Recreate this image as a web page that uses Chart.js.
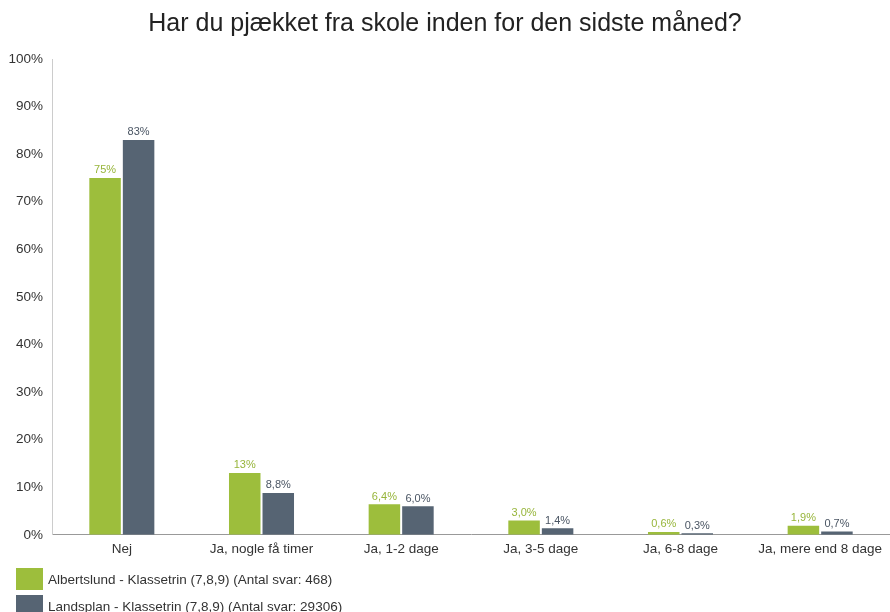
<!DOCTYPE html>
<html>
<head>
<meta charset="utf-8">
<script src="https://cdn.jsdelivr.net/npm/chart.js@4"></script>
<style>
  body { margin: 0; background: #fff; }
  #wrap { position: relative; width: 890px; height: 612px; }
  .leg { position: absolute; left: 16px; font: 13.5px "Liberation Sans", Arial, sans-serif; color: #333; }
  .leg span.box { display: inline-block; width: 27px; height: 22px; vertical-align: middle; margin-right: 5px; }
  .leg span.txt { vertical-align: middle; }
</style>
</head>
<body>
<div id="wrap">
  <canvas id="chart" width="890" height="612"></canvas>
  <div class="leg" style="top:568px"><span class="box" style="background:#9dbe3c"></span><span class="txt">Albertslund - Klassetrin (7,8,9) (Antal svar: 468)</span></div>
  <div class="leg" style="top:595px"><span class="box" style="background:#566473"></span><span class="txt">Landsplan - Klassetrin (7,8,9) (Antal svar: 29306)</span></div>
</div>
<script>
const categories = ['Nej', 'Ja, nogle få timer', 'Ja, 1-2 dage', 'Ja, 3-5 dage', 'Ja, 6-8 dage', 'Ja, mere end 8 dage'];
const albertslund = [75, 13, 6.4, 3.0, 0.6, 1.9];
const landsplan = [83, 8.8, 6.0, 1.4, 0.3, 0.7];
const yTicks = [0, 10, 20, 30, 40, 50, 60, 70, 80, 90, 100];

function fmt(v) {
    if (v >= 10) return Math.round(v) + '%';
    return v.toFixed(1).replace('.', ',') + '%';
}

// draws the value above each bar, in the series' label colour
const barLabels = {
    id: 'barLabels',
    afterDatasetsDraw(chart) {
        const ctx = chart.ctx;
        ctx.save();
        ctx.font = '11px "Liberation Sans", Arial, sans-serif';
        ctx.textAlign = 'center';
        ctx.textBaseline = 'bottom';
        chart.data.datasets.forEach((ds, i) => {
            const meta = chart.getDatasetMeta(i);
            ctx.fillStyle = ds.labelColor;
            meta.data.forEach((bar, j) => {
                ctx.fillText(fmt(ds.data[j]), bar.x, bar.y - 2);
            });
        });
        ctx.restore();
    }
};

const chart = new Chart(
    document.getElementById('chart'),
    {
        type: 'bar',
        data: {
            labels: categories,
            datasets: [
                {
                    label: 'Albertslund - Klassetrin (7,8,9) (Antal svar: 468)',
                    backgroundColor: '#9dbe3c',
                    labelColor: '#97b53a',
                    data: albertslund,
                },
                {
                    label: 'Landsplan - Klassetrin (7,8,9) (Antal svar: 29306)',
                    backgroundColor: '#566473',
                    labelColor: '#4a5563',
                    data: landsplan,
                },
            ]
        },
        options: {
            responsive: false,
            animation: false,
            layout: {
                padding: { left: 0, right: 0, top: 0, bottom: 53 }
            },
            datasets: {
                bar: {
                    categoryPercentage: 0.48,
                    barPercentage: 0.94
                }
            },
            plugins: {
                legend: { display: false },
                tooltip: { enabled: false },
                title: {
                    display: true,
                    text: 'Har du pjækket fra skole inden for den sidste måned?',
                    color: '#222',
                    font: { family: '"Liberation Sans", Arial, sans-serif', size: 25, weight: 'normal' },
                    padding: { top: 9, bottom: 20 }
                }
            },
            scales: {
                x: {
                    grid: { display: false, tickLength: 4 },
                    border: { color: '#999' },
                    ticks: {
                        color: '#333',
                        padding: 2,
                        font: { family: '"Liberation Sans", Arial, sans-serif', size: 13.5 }
                    }
                },
                y: {
                    min: 0,
                    max: 100,
                    afterFit(scale) { scale.width = 52; },
                    afterBuildTicks(scale) { scale.ticks = yTicks.map(v => ({ value: v })); },
                    grid: { display: false },
                    border: { color: '#ccc' },
                    ticks: {
                        color: '#333',
                        padding: 1,
                        font: { family: '"Liberation Sans", Arial, sans-serif', size: 13.5 },
                        callback: v => v + '%'
                    }
                }
            }
        },
        plugins: [barLabels]
    }
);
</script>
</body>
</html>
